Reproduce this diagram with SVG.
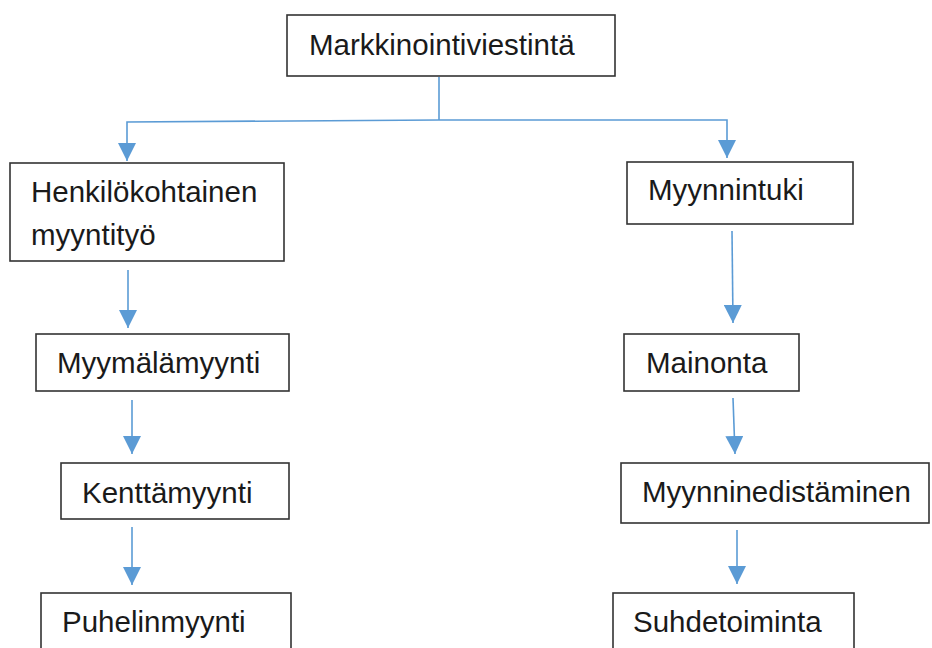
<svg xmlns="http://www.w3.org/2000/svg" width="932" height="648" viewBox="0 0 932 648">
<style>
.box{fill:#fff;stroke:#333;stroke-width:1.6}
.t{font-family:"Liberation Sans",Arial,sans-serif;font-size:29.5px;fill:#1a1a1a}
.c{fill:none;stroke:#5b9bd5;stroke-width:1.6}
</style>
<defs>
<marker id="ah" markerWidth="18" markerHeight="18" viewBox="0 0 18 18" refX="18" refY="9" orient="auto" markerUnits="userSpaceOnUse">
<path d="M0,0 L18,9 L0,18 Z" fill="#5b9bd5"/>
</marker>
</defs>
<rect width="932" height="648" fill="#fff"/>
<g id="connectors">
<path class="c" d="M439,77 L439,120"/>
<path class="c" d="M439,120 L127,122 L127,161" marker-end="url(#ah)"/>
<path class="c" d="M439,120 L727,120 L727,158" marker-end="url(#ah)"/>
<path class="c" d="M128,270 L128,328" marker-end="url(#ah)"/>
<path class="c" d="M132,400 L132,454" marker-end="url(#ah)"/>
<path class="c" d="M132,527 L132,585" marker-end="url(#ah)"/>
<path class="c" d="M732,231 L733,323" marker-end="url(#ah)"/>
<path class="c" d="M733,398 L735,454" marker-end="url(#ah)"/>
<path class="c" d="M737,530 L737,584" marker-end="url(#ah)"/>
</g>
<g id="n-markkinointiviestinta">
<rect class="box" x="287" y="15" width="328" height="61"/>
<text class="t" x="309" y="55">Markkinointiviestintä</text>
</g>
<g id="n-henkilokohtainen">
<rect class="box" x="10" y="163" width="274" height="98"/>
<text class="t" x="31" y="202">Henkilökohtainen</text>
<text class="t" x="31" y="245">myyntityö</text>
</g>
<g id="n-myymalamyynti">
<rect class="box" x="36" y="334" width="253" height="57"/>
<text class="t" x="57" y="373">Myymälämyynti</text>
</g>
<g id="n-kenttamyynti">
<rect class="box" x="61" y="463" width="228" height="56"/>
<text class="t" x="82" y="503">Kenttämyynti</text>
</g>
<g id="n-puhelinmyynti">
<rect class="box" x="41" y="593" width="250" height="70"/>
<text class="t" x="62" y="632">Puhelinmyynti</text>
</g>
<g id="n-myynnintuki">
<rect class="box" x="627" y="162" width="226" height="62"/>
<text class="t" x="648" y="200">Myynnintuki</text>
</g>
<g id="n-mainonta">
<rect class="box" x="624" y="334" width="175" height="57"/>
<text class="t" x="646" y="373">Mainonta</text>
</g>
<g id="n-myynninedistaminen">
<rect class="box" x="621" y="463" width="308" height="60"/>
<text class="t" x="642" y="502">Myynninedistäminen</text>
</g>
<g id="n-suhdetoiminta">
<rect class="box" x="613" y="593" width="241" height="70"/>
<text class="t" x="633" y="632">Suhdetoiminta</text>
</g>
</svg>
